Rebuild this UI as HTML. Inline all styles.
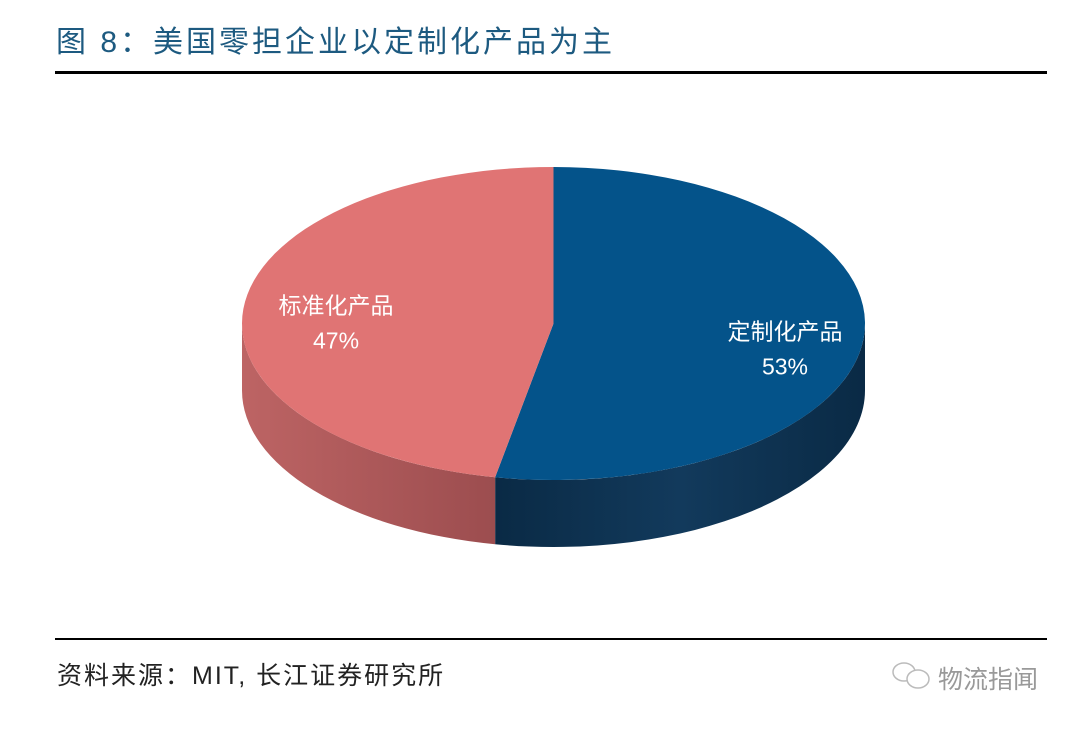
<!DOCTYPE html>
<html><head><meta charset="utf-8"><style>
body{margin:0;background:#fff;width:1080px;height:726px;overflow:hidden;font-family:"Liberation Sans","Noto Sans CJK SC",sans-serif}
</style></head><body>
<svg width="1080" height="726" viewBox="0 0 1080 726">
<defs>
<linearGradient id="gb" x1="0" x2="1" y1="0" y2="0"><stop offset="0" stop-color="#0a2a45"/><stop offset="0.5" stop-color="#123a5c"/><stop offset="1" stop-color="#0a2a45"/></linearGradient>
<linearGradient id="gr" x1="0" x2="1" y1="0" y2="0"><stop offset="0" stop-color="#bd6464"/><stop offset="1" stop-color="#9c4d4f"/></linearGradient>
</defs>
<text x="56" y="52" font-size="30" fill="#1d5a80" letter-spacing="3">图 8：美国零担企业以定制化产品为主</text>
<rect x="55" y="71" width="992" height="3" fill="#000"/>
<g id="pie"></g>
<rect x="55" y="638" width="992" height="2" fill="#000"/>
<text x="57" y="684" font-size="25" fill="#222" letter-spacing="2">资料来源：MIT, 长江证券研究所</text>
<g fill="none" stroke="#bbb" stroke-width="1.5">
<ellipse cx="904" cy="672" rx="11" ry="9"/><ellipse cx="918" cy="679" rx="11" ry="9" fill="#fff"/>
</g>
<text x="938" y="688" font-size="25" fill="#999">物流指闻</text>
</svg>
<script>
const categories = ['定制化产品','标准化产品'];
const shares = [53, 47];
const labels = ['53%','47%'];
const cx=553.5, cy=323.5, rx=311.5, ry=156.5, depth=67;
const tops=['#04538a','#e07474'], sides=['url(#gb)','url(#gr)'];
const NS='http://www.w3.org/2000/svg';
const g=document.getElementById('pie');
function P(t,d){return [cx+rx*Math.sin(t), cy-ry*Math.cos(t)+(d||0)];}
const total=shares.reduce((a,b)=>a+b,0);
let a=0; const slices=[];
shares.forEach((v,i)=>{const b=a+v/total*2*Math.PI;slices.push([a,b]);a=b;});
slices.forEach(([s,e],i)=>{
  const lo=Math.max(s,Math.PI/2), hi=Math.min(e,3*Math.PI/2);
  if(hi<=lo) return;
  const p1=P(lo),p2=P(hi),q2=P(hi,depth),q1=P(lo,depth);
  const path=document.createElementNS(NS,'path');
  path.setAttribute('d',`M${p1} A${rx} ${ry} 0 0 1 ${p2} L${q2} A${rx} ${ry} 0 0 0 ${q1} Z`);
  path.setAttribute('fill',sides[i]);
  
  
  g.appendChild(path);
});
slices.forEach(([s,e],i)=>{
  const p1=P(s),p2=P(e),large=(e-s)>Math.PI?1:0;
  const path=document.createElementNS(NS,'path');
  path.setAttribute('d',`M${cx},${cy} L${p1} A${rx} ${ry} 0 ${large} 1 ${p2} Z`);
  path.setAttribute('fill',tops[i]);
  
  
  g.appendChild(path);
  const m=(s+e)/2, lx=cx+rx*0.74*Math.sin(m)+(i===0?2:12), ly=cy-ry*0.74*Math.cos(m)+(i===0?9:5);
  [categories[i],labels[i]].forEach((txt,k)=>{
    const t=document.createElementNS(NS,'text');
    t.setAttribute('x',lx);t.setAttribute('y',ly-4+k*35);
    t.setAttribute('text-anchor','middle');t.setAttribute('font-size','23');t.setAttribute('fill','#fff');
    t.textContent=txt;
    
    
    g.appendChild(t);
  });
});
</script>
</body></html>
